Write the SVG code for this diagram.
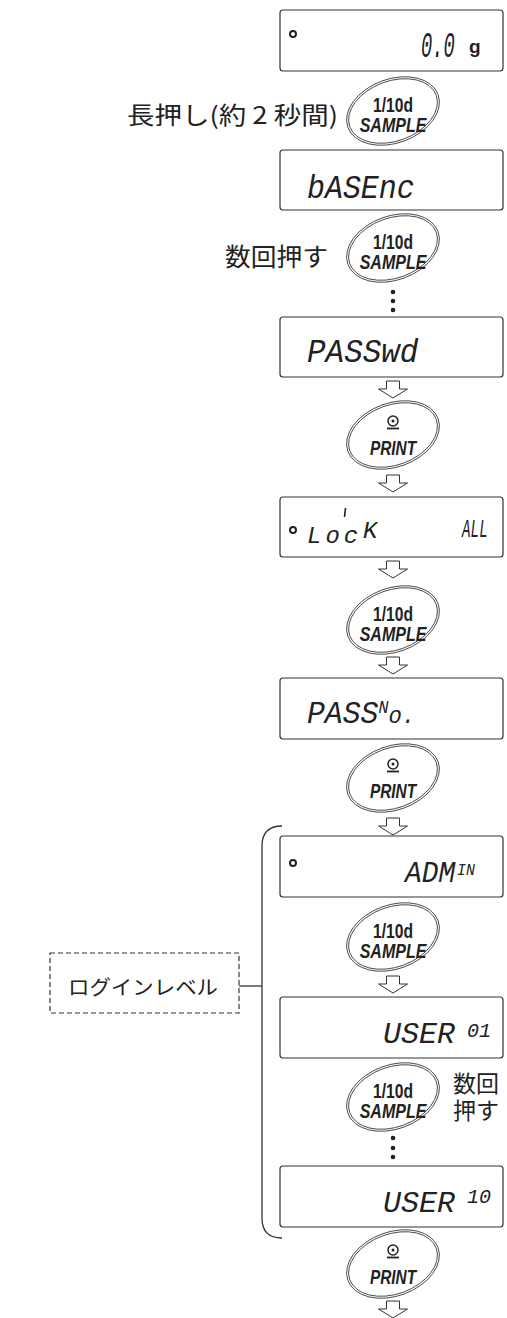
<svg xmlns="http://www.w3.org/2000/svg" width="507" height="1318" viewBox="0 0 507 1318">
<style>
.box{fill:#fff;stroke:#333;stroke-width:1.2}
.seg{font-family:'Liberation Mono','DejaVu Sans Mono',monospace;font-style:italic;fill:#222}
.btn{fill:none;stroke:#333;stroke-width:0.8}
.bt{font-family:'Liberation Sans',Arial,sans-serif;font-weight:bold;fill:#222;text-anchor:middle}
.bi{font-style:italic}
.jp{font-family:'Noto Sans CJK JP',sans-serif;fill:#222}
.arr{fill:#fff;stroke:#333;stroke-width:1}
.ring{fill:none;stroke:#222;stroke-width:2}
.dot{fill:#222}
.line{fill:none;stroke:#333;stroke-width:1.3}
</style>
<defs>
<polygon id="arrow" class="arr" points="-6.5,0 6.5,0 6.5,8 14.5,8 0,17 -14.5,8 -6.5,8"/>
<g id="ell">
<ellipse class="btn" cx="0" cy="0" rx="48" ry="32" transform="rotate(-20)"/>
<ellipse class="btn" cx="0" cy="0" rx="46" ry="30" transform="rotate(-20)"/>
</g>
<g id="sample">
<use href="#ell"/>
<text class="bt" transform="translate(0,1) scale(0.78,1)" font-size="20">1/10d</text>
<text class="bt bi" transform="translate(0,21) scale(0.8,1)" font-size="20">SAMPLE</text>
</g>
<g id="print">
<use href="#ell"/>
<circle cx="0" cy="-14" r="5" fill="none" stroke="#222" stroke-width="1.5"/>
<circle cx="0" cy="-14" r="1.5" fill="#222"/>
<line x1="-6" y1="-6.5" x2="6" y2="-6.5" stroke="#222" stroke-width="1.8"/>
<text class="bt bi" transform="translate(0,20) scale(0.77,1)" font-size="20">PRINT</text>
</g>
</defs>

<g id="connectors">
<use href="#arrow" x="393" y="381"/>
<use href="#arrow" x="393" y="475"/>
<use href="#arrow" x="393" y="561"/>
<use href="#arrow" x="393" y="657"/>
<use href="#arrow" x="393" y="818"/>
<use href="#arrow" x="393" y="976"/>
<use href="#arrow" x="393" y="1301"/>
<circle class="dot" cx="393" cy="292" r="2.3"/>
<circle class="dot" cx="393" cy="301" r="2.3"/>
<circle class="dot" cx="393" cy="310" r="2.3"/>
<circle class="dot" cx="393" cy="1138" r="2.3"/>
<circle class="dot" cx="393" cy="1148" r="2.3"/>
<circle class="dot" cx="393" cy="1157" r="2.3"/>
<path class="line" d="M282 826 Q262 826 262 846 L262 1218 Q262 1238 282 1238"/>
<line class="line" x1="239" y1="986" x2="262" y2="986"/>
</g>

<g id="disp-zero">
<rect class="box" x="280" y="10" width="223" height="61" rx="3"/>
<circle class="ring" cx="293" cy="34" r="3"/>
<text class="seg" transform="translate(421,57) scale(0.52,1)" font-size="36">0.0</text>
<text x="469" y="53" font-family="'Liberation Sans',Arial,sans-serif" font-weight="bold" font-size="19" fill="#222">g</text>
</g>

<g id="btn-sample-1"><use href="#sample" x="393" y="111"/></g>
<g id="label-long"><text class="jp" x="127" y="124" font-size="24" textLength="211" lengthAdjust="spacingAndGlyphs">長押し(約 2 秒間)</text></g>

<g id="disp-basenc">
<rect class="box" x="280" y="150" width="223" height="60" rx="3"/>
<text class="seg" transform="translate(307,198) scale(0.88,1)" font-size="34">bASEnc</text>
</g>

<g id="btn-sample-2"><use href="#sample" x="393" y="248"/></g>
<g id="label-multi"><text class="jp" x="225" y="266" font-size="25" textLength="103" lengthAdjust="spacingAndGlyphs">数回押す</text></g>

<g id="disp-passwd">
<rect class="box" x="280" y="317" width="223" height="60" rx="3"/>
<text class="seg" transform="translate(307,362) scale(0.91,1)" font-size="34">PASSwd</text>
</g>

<g id="btn-print-1"><use href="#print" x="393" y="435"/></g>

<g id="disp-lock">
<rect class="box" x="280" y="497" width="223" height="60" rx="3"/>
<circle class="ring" cx="293" cy="530" r="3"/>
<line x1="345.5" y1="508" x2="344.5" y2="517" stroke="#222" stroke-width="1.6"/>
<text class="seg" x="307" y="543" font-size="24" letter-spacing="4">Loc<tspan x="363" y="538">K</tspan></text>
<text class="seg" transform="translate(462,537) scale(0.55,1)" font-size="26">ALL</text>
</g>

<g id="btn-sample-3"><use href="#sample" x="393" y="620"/></g>

<g id="disp-passno">
<rect class="box" x="280" y="678" width="223" height="61" rx="3"/>
<text class="seg" font-size="32" transform="translate(307,723) scale(0.93,1)">PASS<tspan font-size="18" dy="-10">N</tspan><tspan font-size="24" dy="10">o.</tspan></text>
</g>

<g id="btn-print-2"><use href="#print" x="393" y="778"/></g>

<g id="disp-admin">
<rect class="box" x="280" y="836" width="223" height="61" rx="3"/>
<circle class="ring" cx="293" cy="863" r="3"/>
<text class="seg" font-size="30" transform="translate(405,882) scale(0.93,1)">ADM<tspan font-size="16" dy="-7" dx="2">IN</tspan></text>
</g>

<g id="btn-sample-4"><use href="#sample" x="393" y="937"/></g>

<g id="login-level">
<rect x="50" y="953" width="189" height="60" fill="none" stroke="#333" stroke-width="1.2" stroke-dasharray="5,3"/>
<text class="jp" x="68" y="995" font-size="20" textLength="150" lengthAdjust="spacingAndGlyphs">ログインレベル</text>
</g>

<g id="disp-user01">
<rect class="box" x="280" y="997" width="223" height="61" rx="3"/>
<text class="seg" font-size="30" x="383" y="1043">USER<tspan font-size="20" x="467" y="1037">01</tspan></text>
</g>

<g id="btn-sample-5"><use href="#sample" x="393" y="1097"/></g>
<g id="label-multi-2">
<text x="453" y="1092" font-size="23" font-family="'Liberation Serif','Noto Sans CJK JP',serif" fill="#222">数回</text>
<text x="453" y="1119" font-size="23" font-family="'Liberation Serif','Noto Sans CJK JP',serif" fill="#222">押す</text>
</g>

<g id="disp-user10">
<rect class="box" x="280" y="1166" width="223" height="61" rx="3"/>
<text class="seg" font-size="30" x="383" y="1212">USER<tspan font-size="20" x="467" y="1203">10</tspan></text>
</g>

<g id="btn-print-3"><use href="#print" x="393" y="1264"/></g>
</svg>
